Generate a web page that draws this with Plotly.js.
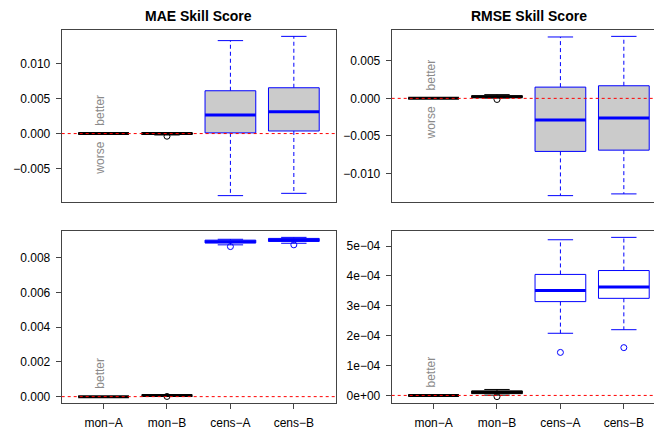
<!DOCTYPE html>
<html><head><meta charset="utf-8">
<script src="https://cdn.plot.ly/plotly-3.0.1.min.js"></script>
<style>html,body{margin:0;padding:0;background:#fff}#chart{width:654px;height:430px}</style>
</head><body><div id="chart"></div>
<script>
const categories = ['mon\u2212A','mon\u2212B','cens\u2212A','cens\u2212B'];
const catPos = [1,2,3,4];
const boxColors = ['black','black','blue','blue'];

// Top-left: MAE Skill Score
const maeLower  = [0, -0.0002, -0.0089, -0.00857];
const maeQ1     = [0, -0.0001, 0.0001, 0.00037];
const maeMedian = [0, 0.00000, 0.00266, 0.00313];
const maeQ3     = [0, 0.0001, 0.00614, 0.00657];
const maeUpper  = [0, 0.00015, 0.01333, 0.01394];
const maeOutX = [2]; const maeOutY = [-0.00038];

// Top-right: RMSE Skill Score
const rmseLower  = [0, 0.00005, -0.01296, -0.01273];
const rmseQ1     = [0, 0.0001, -0.00707, -0.0069];
const rmseMedian = [0, 0.0002, -0.00288, -0.00261];
const rmseQ3     = [0, 0.00035, 0.0015, 0.00168];
const rmseUpper  = [0, 0.0005, 0.00818, 0.00826];
const rmseOutX = [2]; const rmseOutY = [-0.00015];

// Bottom-left
const mae2Lower  = [0, 0.00002, 0.00873, 0.00882];
const mae2Q1     = [0, 0.00004, 0.00884, 0.00893];
const mae2Median = [0, 0.00006, 0.00891, 0.00899];
const mae2Q3     = [0, 0.00008, 0.00900, 0.00910];
const mae2Upper  = [0, 0.00011, 0.00905, 0.00916];
const mae2OutX = [2,3,4]; const mae2OutY = [0.00001, 0.00863, 0.00873];

// Bottom-right
const rmse2Lower  = [0, 0.000001, 0.000208, 0.00022];
const rmse2Q1     = [0, 0.000006, 0.000314, 0.000325];
const rmse2Median = [0, 0.000011, 0.000351, 0.000363];
const rmse2Q3     = [0, 0.000015, 0.000405, 0.000418];
const rmse2Upper  = [0, 0.00002, 0.000521, 0.000529];
const rmse2OutX = [2,3,4]; const rmse2OutY = [-0.000004, 0.000144, 0.00016];

const yTicksTL = [-0.005, 0, 0.005, 0.010];
const yTextTL = ['\u22120.005','0.000','0.005','0.010'];
const yTicksTR = [-0.010, -0.005, 0, 0.005];
const yTextTR = ['\u22120.010','\u22120.005','0.000','0.005'];
const yTicksBL = [0, 0.002, 0.004, 0.006, 0.008];
const yTextBL = ['0.000','0.002','0.004','0.006','0.008'];
const yTicksBR = [0, 1e-4, 2e-4, 3e-4, 4e-4, 5e-4];
const yTextBR = ['0e+00','1e\u221204','2e\u221204','3e\u221204','4e\u221204','5e\u221204'];

const titles = ['MAE Skill Score', 'RMSE Skill Score'];
const baseline = 0;

const traces = [];
const BW = 0.4, SW = 0.2;
function addBoxes(ax, ay, lo, q1, med, q3, up, outX, outY, fill) {
  for (let i = 0; i < catPos.length; i++) {
    const x = catPos[i], c = boxColors[i];
    traces.push({type:'scatter', mode:'lines', xaxis:ax, yaxis:ay, hoverinfo:'skip', showlegend:false,
      x:[x,x,null,x,x], y:[q3[i],up[i],null,q1[i],lo[i]],
      line:{color:c, width:1, dash:'4px,3px'}});
    traces.push({type:'scatter', mode:'lines', xaxis:ax, yaxis:ay, hoverinfo:'skip', showlegend:false,
      x:[x-SW,x+SW,null,x-SW,x+SW], y:[up[i],up[i],null,lo[i],lo[i]],
      line:{color:c, width:1}});
    traces.push({type:'scatter', mode:'lines', xaxis:ax, yaxis:ay, hoverinfo:'skip', showlegend:false,
      x:[x-BW,x+BW,x+BW,x-BW,x-BW], y:[q1[i],q1[i],q3[i],q3[i],q1[i]],
      fill:'toself', fillcolor:fill, line:{color:c, width:1}});
    traces.push({type:'scatter', mode:'lines', xaxis:ax, yaxis:ay, hoverinfo:'skip', showlegend:false,
      x:[x-BW,x+BW], y:[med[i],med[i]], line:{color:c, width:3}});
  }
  traces.push({type:'scatter', mode:'markers', xaxis:ax, yaxis:ay, hoverinfo:'skip', showlegend:false,
    x:outX, y:outY,
    marker:{symbol:'circle-open', size:6, color:outX.map(v => boxColors[v-1]), line:{width:1}}});
}
addBoxes('x','y', maeLower, maeQ1, maeMedian, maeQ3, maeUpper, maeOutX, maeOutY, '#cbcbcb');
addBoxes('x2','y2', rmseLower, rmseQ1, rmseMedian, rmseQ3, rmseUpper, rmseOutX, rmseOutY, '#cbcbcb');
addBoxes('x3','y3', mae2Lower, mae2Q1, mae2Median, mae2Q3, mae2Upper, mae2OutX, mae2OutY, '#cbcbcb');
addBoxes('x4','y4', rmse2Lower, rmse2Q1, rmse2Median, rmse2Q3, rmse2Upper, rmse2OutX, rmse2OutY, 'white');

function padRange(lo, up, outY) {
  const all = lo.concat(up, outY);
  const mn = Math.min(...all), mx = Math.max(...all);
  const d = (mx - mn) * 0.04;
  return [mn - d, mx + d];
}

const font = {family:'Liberation Sans, Arial, sans-serif', size:12, color:'#000'};
const L0 = 61.7/654, L1 = 335.7/654, R0 = 391.7/654;
const pxPerUnit = (L1 - L0) * 654 / 4.32;
const rightMax = 0.34 + (654 - 391.7) / pxPerUnit;
const T0 = 1 - 202/430, T1 = 1 - 30/430, B0 = 1 - 403/430, B1 = 1 - 231/430;

function xax(dom, range, labels, anchor) {
  return {domain:dom, range:range, anchor:anchor, showgrid:false, zeroline:false, showline:true, mirror:true,
    linecolor:'#444', linewidth:1, fixedrange:true,
    tickvals:catPos, ticktext:categories, showticklabels:labels, ticks:labels?'outside':'',
    ticklen:5, tickcolor:'#444', tickfont:font, ticklabelstandoff:4};
}
function yax(dom, range, tv, tt, mirror, anchor) {
  return {domain:dom, range:range, showgrid:false, zeroline:false, showline:true, mirror:mirror,
    linecolor:'#444', linewidth:1, fixedrange:true, anchor:anchor,
    tickvals:tv, ticktext:tt, ticks:'outside', ticklen:5, tickcolor:'#444', tickfont:font, ticklabelstandoff:3};
}

const layout = {
  width:654, height:430, margin:{l:0,r:0,t:0,b:0}, paper_bgcolor:'#fff', plot_bgcolor:'#fff',
  showlegend:false, font:font,
  xaxis:  xax([L0,L1], [0.34,4.66], false, 'y'),
  xaxis2: xax([R0,1], [0.34,rightMax], false, 'y2'),
  xaxis3: xax([L0,L1], [0.34,4.66], true, 'y3'),
  xaxis4: xax([R0,1], [0.34,rightMax], true, 'y4'),
  yaxis:  yax([T0,T1], padRange(maeLower, maeUpper, maeOutY), yTicksTL, yTextTL, true, 'x'),
  yaxis2: yax([T0,T1], padRange(rmseLower, rmseUpper, rmseOutY), yTicksTR, yTextTR, false, 'x2'),
  yaxis3: yax([B0,B1], padRange(mae2Lower, mae2Upper, mae2OutY), yTicksBL, yTextBL, true, 'x3'),
  yaxis4: yax([B0,B1], padRange(rmse2Lower, rmse2Upper, rmse2OutY), yTicksBR, yTextBR, false, 'x4'),
  shapes: ['','2','3','4'].map(s => ({type:'line', xref:'x'+s+' domain', yref:'y'+s, x0:0, x1:1, y0:baseline, y1:baseline,
    line:{color:'red', width:1, dash:'3px,3px'}, layer:'above'})),
  annotations: [
    {text:'<b>'+titles[0]+'</b>', xref:'paper', yref:'paper', x:(L0+L1)/2, y:1-16/430, showarrow:false,
      font:{family:font.family, size:14, color:'#000'}, xanchor:'center', yanchor:'middle'},
    {text:'<b>'+titles[1]+'</b>', xref:'paper', yref:'paper', x:R0+(L1-L0)/2, y:1-16/430, showarrow:false,
      font:{family:font.family, size:14, color:'#000'}, xanchor:'center', yanchor:'middle'}
  ]
};
const gray = {family:font.family, size:12, color:'#8a8a8a'};
['','2','3','4'].forEach((s, k) => {
  layout.annotations.push({text:'better', xref:'x'+s, yref:'y'+s, x:catPos[0], y:baseline, textangle:-90,
    showarrow:false, xanchor:'center', yanchor:'bottom', yshift:6, xshift:-3, font:gray});
  if (k < 2) layout.annotations.push({text:'worse', xref:'x'+s, yref:'y'+s, x:catPos[0], y:baseline, textangle:-90,
    showarrow:false, xanchor:'center', yanchor:'top', yshift:-6, xshift:-3, font:gray});
});
Plotly.newPlot('chart', traces, layout, {staticPlot:true, displayModeBar:false});
</script></body></html>
